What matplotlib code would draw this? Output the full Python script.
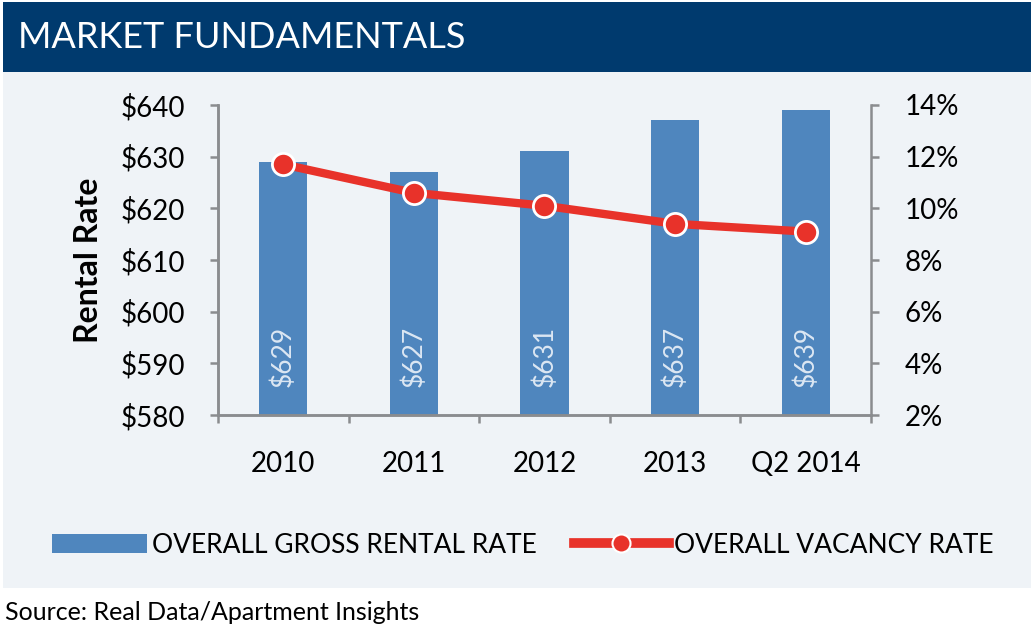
import matplotlib.pyplot as plt
from matplotlib.patches import Rectangle, Patch
from matplotlib.lines import Line2D

plt.rcParams['font.family'] = ['Lato', 'DejaVu Sans']

# data
categories = ['2010', '2011', '2012', '2013', 'Q2 2014']
rental_rate = [629, 627, 631, 637, 639]
vacancy_rate = [11.7, 10.6, 10.1, 9.4, 9.1]
rent_ticks = [580, 590, 600, 610, 620, 630, 640]
vac_ticks = [2, 4, 6, 8, 10, 12, 14]

NAVY = '#003a6e'
PANEL = '#eff3f7'
BAR = '#4f86be'
RED = '#e8322a'
GREY = '#8a8c8f'

fig = plt.figure(figsize=(10.31, 6.31), dpi=100)

# header band and panel background
fig.patches.append(Rectangle((0.003, 0.886), 0.997, 0.111, transform=fig.transFigure,
                             facecolor=NAVY, edgecolor='none', zorder=-10))
fig.patches.append(Rectangle((0.003, 0.068), 0.997, 0.818, transform=fig.transFigure,
                             facecolor=PANEL, edgecolor='none', zorder=-10))
fig.text(0.017, 0.940, 'MARKET FUNDAMENTALS', color='white', fontsize=26,
         va='center', ha='left')
fig.text(0.005, 0.030, 'Source: Real Data/Apartment Insights', fontsize=18,
         va='center', ha='left')

ax = fig.add_axes([0.2114, 0.3423, 0.6334, 0.4913])
ax.patch.set_visible(False)
x = list(range(len(categories)))

ax.bar(x, rental_rate, width=0.37, color=BAR, zorder=2)
for xi, v in zip(x, rental_rate):
    ax.text(xi, 585.5, f'${v}', rotation=90, ha='center', va='bottom',
            color='#dce7f3', fontsize=19, zorder=3)

ax.set_ylim(580, 640)
ax.set_xlim(-0.5, 4.5)
ax.set_yticks(rent_ticks)
ax.set_yticklabels([f'${t}' for t in rent_ticks])
ax.set_xticks(x)
ax.set_xticklabels(categories)
ax.set_xticks([i - 0.5 for i in range(len(categories) + 1)], minor=True)
ax.tick_params(axis='x', which='major', length=0, pad=26, labelsize=20)
ax.tick_params(axis='x', which='minor', length=6, width=1.8, color=GREY)
ax.tick_params(axis='y', length=6, width=1.8, color=GREY, pad=18, labelsize=20)
ax.set_ylabel('Rental Rate', fontsize=23, fontweight='bold', labelpad=12)

ax2 = ax.twinx()
ax2.plot(x, vacancy_rate, color=RED, lw=6, marker='o', markersize=16,
         markerfacecolor=RED, markeredgecolor='white', markeredgewidth=2,
         solid_capstyle='round', zorder=4)
ax2.set_ylim(2, 14)
ax2.set_yticks(vac_ticks)
ax2.set_yticklabels([f'{t}%' for t in vac_ticks])
ax2.tick_params(axis='y', length=6, width=1.8, color=GREY, pad=18, labelsize=20)

for a in (ax, ax2):
    a.spines['top'].set_visible(False)
    for s in ('left', 'right', 'bottom'):
        a.spines[s].set_color(GREY)
        a.spines[s].set_linewidth(1.8)
ax.spines['right'].set_visible(False)

handles = [Patch(facecolor=BAR, edgecolor='none'),
           Line2D([], [], color=RED, lw=7, marker='o', markersize=13,
                  markerfacecolor=RED, markeredgecolor='white', markeredgewidth=1.5)]
fig.legend(handles, ['OVERALL GROSS RENTAL RATE', 'OVERALL VACANCY RATE'],
           loc='center', bbox_to_anchor=(0.507, 0.136), ncol=2, frameon=False,
           fontsize=19, handlelength=3.6, handleheight=0.7, handletextpad=0.2,
           columnspacing=1.4)

fig.savefig('out.png', dpi=100)
